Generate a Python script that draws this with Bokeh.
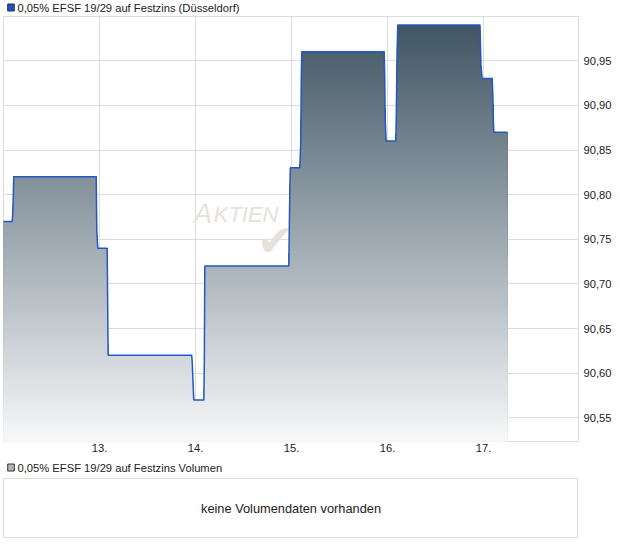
import numpy as np
from bokeh.plotting import figure
from bokeh.models import Range1d, FixedTicker, CustomJSTickFormatter
from bokeh.layouts import column
from bokeh.embed import file_html
from bokeh.resources import INLINE
from bokeh.core.properties import value

# ---------------- data ----------------
title_price = "0,05% EFSF 19/29 auf Festzins (Düsseldorf)"
title_volume = "0,05% EFSF 19/29 auf Festzins Volumen"
no_volume_text = "keine Volumendaten vorhanden"
watermark_big = "A"
watermark_small = "KTIEN"

# time in (fractional) day of month
times = [12.000, 12.091, 12.097, 12.107, 12.966, 12.972, 12.982, 13.080, 13.090,
         13.961, 13.967, 13.976, 13.982, 14.087, 14.092, 14.097, 14.972, 14.982,
         14.988, 15.087, 15.097, 15.102, 15.107, 15.966, 15.971, 15.976, 15.986,
         16.087, 16.092, 16.100, 16.107, 16.964, 16.974, 16.986, 17.091, 17.098,
         17.104, 17.108, 17.247]
prices = [90.77, 90.77, 90.78, 90.82, 90.82, 90.76, 90.74, 90.74, 90.62,
          90.62, 90.61, 90.585, 90.57, 90.57, 90.61, 90.72, 90.72, 90.80,
          90.83, 90.83, 90.86, 90.93, 90.96, 90.96, 90.935, 90.885, 90.86,
          90.86, 90.89, 90.96, 90.99, 90.99, 90.945, 90.93, 90.93, 90.91,
          90.88, 90.87, 90.87]

x_ticks = [13, 14, 15, 16, 17]
x_tick_labels = ["13.", "14.", "15.", "16.", "17."]
y_ticks = [90.55, 90.60, 90.65, 90.70, 90.75, 90.80, 90.85, 90.90, 90.95]

X_START, X_END = 12.0, 17.99
Y_START, Y_END = 90.5234, 90.9996

FONT = "Liberation Sans"
GRID = "#dcdcdc"
TOP_RGB = np.array([64, 85, 100])
BOT_RGB = np.array([247, 248, 249])
FULL_W = 612
FRAME_W = 575


def legend_row(label, fill, line, height, sq_top):
    """A small strip holding a coloured square and a label (screen-pixel coords)."""
    f = figure(x_range=Range1d(0, FULL_W), y_range=Range1d(height, 0),
               width=FULL_W, height=height, output_backend="svg",
               toolbar_location=None, min_border=0,
               background_fill_color="white", border_fill_color="white",
               outline_line_color=None)
    f.axis.visible = False
    f.grid.visible = False
    f.quad(left=[4.5], right=[11.5], top=[sq_top], bottom=[sq_top + 7],
           fill_color=fill, line_color=line, line_width=1)
    f.text(x=[15], y=[sq_top + 3.5], text=[label], text_font=value(FONT),
           text_font_size="11.2px", text_color="#222222", text_align="left",
           text_baseline="middle")
    return f


# ---------------- price chart ----------------
leg1 = legend_row(title_price, "#2255b8", "#1a2b55", 15, 3.5)

p = figure(x_range=Range1d(X_START, X_END), y_range=Range1d(Y_START, Y_END),
           frame_width=FRAME_W, frame_height=425, y_axis_location="right",
           output_backend="svg", toolbar_location=None,
           min_border_left=3, min_border_right=0, min_border_top=1, min_border_bottom=0,
           background_fill_color="white", border_fill_color="white",
           outline_line_color=GRID)

# watermark (behind the area)
p.text(x=[13.985], y=[90.778], text=[watermark_big], text_font=value(FONT),
       text_font_style="italic", text_font_size="27px", text_color="#e6e1da",
       text_align="left", text_baseline="alphabetic")
p.text(x=[14.19], y=[90.778], text=[watermark_small], text_font=value(FONT),
       text_font_style="italic", text_font_size="22px", text_color="#e6e1da",
       text_align="left", text_baseline="alphabetic")
p.text(x=[14.83], y=[90.749], text=["\u2714"], text_font=value("DejaVu Sans"),
       text_font_size="44px", text_color="#e6e1da",
       text_align="center", text_baseline="middle")

# gradient area drawn as stacked bands
pr = np.array(prices)
n_bands = 120
edges = np.linspace(Y_START, pr.max(), n_bands + 1)
for i in range(n_bands, 0, -1):
    mid = 0.5 * (edges[i] + edges[i - 1])
    f = (mid - Y_START) / (pr.max() - Y_START)
    rgb = BOT_RGB + (TOP_RGB - BOT_RGB) * f
    col = "#%02x%02x%02x" % tuple(int(round(c)) for c in rgb)
    p.varea(x=times, y1=Y_START, y2=np.minimum(pr, edges[i]), fill_color=col)

p.line(times, prices, line_color="#2358c4", line_width=1.5)

p.xaxis.ticker = FixedTicker(ticks=x_ticks)
p.xaxis.major_label_overrides = dict(zip(x_ticks, x_tick_labels))
p.yaxis.ticker = FixedTicker(ticks=y_ticks)
p.yaxis.formatter = CustomJSTickFormatter(code="return tick.toFixed(2).replace('.', ',');")
for ax in (p.xaxis, p.yaxis):
    ax.axis_line_color = None
    ax.major_tick_line_color = None
    ax.minor_tick_line_color = None
    ax.major_tick_out = 0
    ax.major_tick_in = 0
    ax.minor_tick_out = 0
    ax.major_label_text_font = FONT
    ax.major_label_text_font_size = "11.2px"
    ax.major_label_text_color = "#222222"
p.xaxis.major_label_standoff = 2
p.yaxis.major_label_standoff = 5
p.grid.grid_line_color = GRID

# ---------------- volume panel ----------------
leg2 = legend_row(title_volume, "#b4b4b4", "#333333", 21, 9.5)

p2 = figure(x_range=Range1d(0, 1), y_range=Range1d(0, 1),
            frame_width=FRAME_W, frame_height=59,
            output_backend="svg", toolbar_location=None,
            min_border_left=3, min_border_right=0, min_border_top=3, min_border_bottom=1,
            background_fill_color="white", border_fill_color="white",
            outline_line_color=GRID)
p2.axis.visible = False
p2.grid.visible = False
p2.text(x=[0.5], y=[0.5], text=[no_volume_text], text_font=value(FONT),
        text_font_size="12.8px", text_color="#222222", text_align="center",
        text_baseline="middle")

layout = column(leg1, p, leg2, p2)
open("out.html", "w").write(file_html(layout, INLINE))
